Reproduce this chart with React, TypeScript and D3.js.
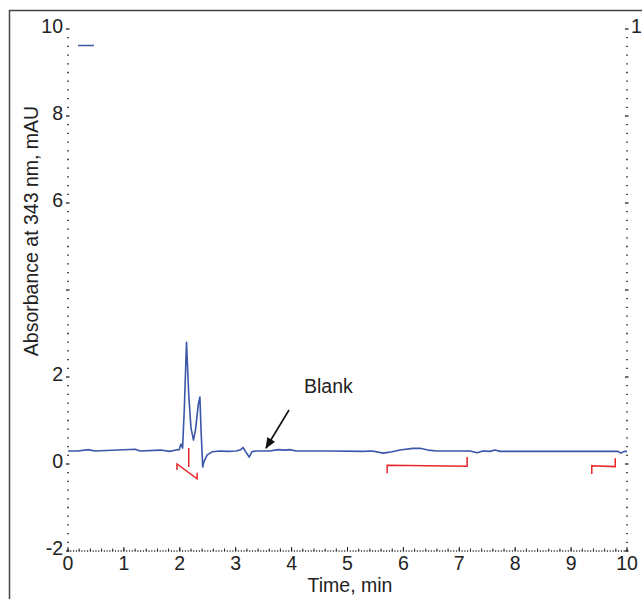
import React from "react";
import * as d3 from "d3";

// chromatogram, blank injection
const timeMin = [
  0, 0.18, 0.36, 0.48, 1.2, 1.29, 1.65, 1.82, 1.93, 1.99, 2.02, 2.05, 2.08, 2.12, 2.16, 2.2,
  2.245, 2.28, 2.33, 2.36, 2.38, 2.41, 2.43, 2.49, 2.58, 2.72, 2.86, 3.01, 3.09, 3.13, 3.18,
  3.24, 3.29, 3.35, 3.61, 3.76, 3.88, 3.97, 4.08, 4.69, 5.28, 5.44, 5.64, 5.8, 5.94, 6.17,
  6.3, 6.44, 6.6, 7.19, 7.32, 7.42, 7.55, 7.64, 7.73, 8.8, 9.84, 9.89, 9.95, 10,
];
const absorbance = [
  0.3, 0.3, 0.33, 0.3, 0.34, 0.3, 0.32, 0.29, 0.32, 0.33, 0.46, 0.37, 1.24, 2.8, 1.59, 0.83,
  0.55, 0.78, 1.36, 1.54, 0.78, -0.07, 0.05, 0.21, 0.28, 0.3, 0.29, 0.3, 0.33, 0.38, 0.28,
  0.16, 0.28, 0.3, 0.3, 0.33, 0.32, 0.33, 0.3, 0.3, 0.29, 0.3, 0.25, 0.28, 0.32, 0.36,
  0.36, 0.32, 0.3, 0.3, 0.26, 0.3, 0.29, 0.32, 0.29, 0.29, 0.29, 0.25, 0.29, 0.29,
];

// integration baseline markers (red)
const baselineMarks: [number, number][][] = [
  [[1.95, -0.14], [1.95, 0], [2.31, -0.34], [2.31, -0.2]],
  [[2.16, 0.37], [2.16, -0.07]],
  [[5.71, -0.21], [5.71, -0.03], [7.14, -0.05], [7.14, 0.16]],
  [[9.37, -0.23], [9.37, -0.04], [9.79, -0.06], [9.79, 0.13]],
];

const xTicks = [0, 1, 2, 3, 4, 5, 6, 7, 8, 9, 10];
const yTickLabels = [10, 8, 6, 2, 0, -2];

const W = 642;
const H = 599;
const FONT = "'Liberation Sans', Arial, sans-serif";

export default function App() {
  const x = d3.scaleLinear().domain([0, 10]).range([68, 627]);
  const y = d3.scaleLinear().domain([-2, 10]).range([551, 29]);

  const line = d3
    .line<number>()
    .x((_, i) => x(timeMin[i]))
    .y((d) => y(d));

  const markLine = d3
    .line<[number, number]>()
    .x((d) => x(d[0]))
    .y((d) => y(d[1]));

  // dotted axes: y every 0.2, x every 0.05
  const yDots = d3.range(-2, 10.001, 0.2);
  const xDots = d3.range(0, 10.001, 0.05);
  const xMinor = d3.range(0, 10.001, 0.2);

  const yAxisDots = (x0: number) =>
    yDots.map((v, i) => {
      const major = Math.abs(v - Math.round(v)) < 1e-6 && Math.round(v) % 2 === 0;
      return (
        <line
          key={i}
          x1={x0 - (major ? 2 : 0.8)}
          x2={x0 + (major ? 1.5 : 0.8)}
          y1={y(v)}
          y2={y(v)}
          stroke="#222"
          strokeWidth={1.3}
        />
      );
    });

  return (
    <svg
      width={W}
      height={H}
      style={{ position: "absolute", left: 0, top: 0, background: "#fff" }}
      fontFamily={FONT}
    >
      {/* outer frame */}
      <path d={`M9.5,${H} V10.5 H${W}`} fill="none" stroke="#444" strokeWidth={1.5} />

      {/* left & right y axes */}
      {yAxisDots(x(0))}
      {yAxisDots(x(10))}

      {/* bottom x axis */}
      {xDots.map((v, i) => (
        <line key={`xd${i}`} x1={x(v)} x2={x(v)} y1={y(-2) - 0.7} y2={y(-2) + 0.7} stroke="#222" strokeWidth={1.1} />
      ))}
      {xMinor.map((v, i) => (
        <line key={`xm${i}`} x1={x(v)} x2={x(v)} y1={y(-2)} y2={y(-2) - 2.5} stroke="#222" strokeWidth={1} />
      ))}
      {xTicks.map((v) => (
        <line key={`xt${v}`} x1={x(v)} x2={x(v)} y1={y(-2)} y2={y(-2) - 4} stroke="#222" strokeWidth={1} />
      ))}

      {/* tick labels */}
      {yTickLabels.map((v) => (
        <text key={`yl${v}`} x={x(0) - 5} y={y(v) - 3} textAnchor="end" dominantBaseline="central" fontSize={19.5} fill="#222">
          {v}
        </text>
      ))}
      <text x={x(10) + 4} y={y(10) - 3} textAnchor="start" dominantBaseline="central" fontSize={19.5} fill="#222">
        10
      </text>
      {xTicks.map((v) => (
        <text key={`xl${v}`} x={x(v)} y={570} textAnchor="middle" fontSize={19.5} fill="#222">
          {v}
        </text>
      ))}

      {/* axis titles */}
      <text x={350} y={592} textAnchor="middle" fontSize={19.5} fill="#222">
        Time, min
      </text>
      <text
        transform={`translate(38,231) rotate(-90)`}
        textAnchor="middle"
        fontSize={19.5}
        fill="#222"
      >
        Absorbance at 343 nm, mAU
      </text>

      {/* legend sample */}
      <line x1={78} x2={94} y1={45.5} y2={45.5} stroke="#3a56a8" strokeWidth={1.5} />

      {/* baseline marks */}
      {baselineMarks.map((m, i) => (
        <path key={`bm${i}`} d={markLine(m) ?? ""} fill="none" stroke="#e8262a" strokeWidth={1.5} />
      ))}

      {/* trace */}
      <path d={line(absorbance) ?? ""} fill="none" stroke="#3a56a8" strokeWidth={1.6} strokeLinejoin="round" />

      {/* annotation */}
      <defs>
        <marker id="ah" viewBox="0 0 10 10" refX="9" refY="5" markerWidth="7" markerHeight="7" orient="auto">
          <path d="M0,1 L10,5 L0,9 z" fill="#111" />
        </marker>
      </defs>
      <line x1={289} y1={410} x2={266} y2={448} stroke="#111" strokeWidth={1.6} markerEnd="url(#ah)" />
      <text x={304} y={393} fontSize={19.5} fill="#222">
        Blank
      </text>
    </svg>
  );
}
